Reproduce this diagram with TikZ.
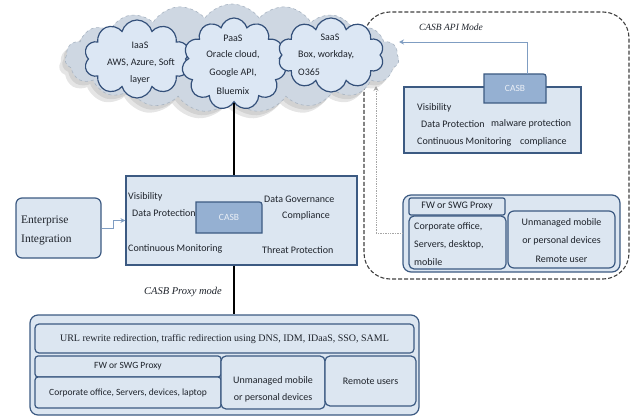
\documentclass[tikz,border=0pt]{standalone}
\usepackage{fontspec}
\setmainfont{Carlito}
\newfontfamily\serifface{Liberation Serif}
\usetikzlibrary{shapes.symbols,shadows,arrows.meta}
\definecolor{boxfill}{HTML}{DCE6F1}
\definecolor{boxline}{HTML}{3C5A82}
\definecolor{tabfill}{HTML}{95B0D2}
\definecolor{cloudfill}{HTML}{DCE7F4}
\definecolor{cloudline}{HTML}{34507A}
\definecolor{bgfill}{HTML}{CED7E2}
\definecolor{bgline}{HTML}{A8B4C2}
\definecolor{linkc}{HTML}{7F9DC2}
\definecolor{txt}{HTML}{1E232B}
\begin{document}
\begin{tikzpicture}[x=1pt,y=-1pt,
  every node/.style={font=\fontsize{10}{12}\selectfont,text=txt},
  box/.style={draw=boxline,fill=boxfill,line width=1.2pt,inner sep=0pt},
  rbox/.style={box,rounded corners=#1},
  rbox/.default=4pt,
  tabpath/.style={draw=boxline,fill=tabfill,line width=1.2pt},
  tabtext/.style={inner sep=0pt,text=white!80!tabfill,font=\fontsize{9.5}{11}\selectfont},
  lt/.style={inner sep=0pt,anchor=west},
  ct/.style={inner sep=0pt,anchor=center},
  puff/.style={cloud,cloud puffs=#1,cloud ignores aspect,draw=cloudline,fill=cloudfill,line width=1.2pt,inner sep=0pt},
  thickline/.style={line width=1.8pt,black},
  link/.style={draw=linkc,line width=0.9pt,-{Stealth[length=5pt,width=5pt]}},
  dotlink/.style={draw=gray!70,line width=0.7pt,densely dotted,-{Stealth[length=5pt,width=5pt]}}
]
\useasboundingbox (0,0) rectangle (632,417);

% API mode dashed frame
\draw[draw=black!75,line width=1.1pt,dash pattern=on 4pt off 2pt,rounded corners=26pt] (364,12) rectangle (629,279);
\node[ct,font=\serifface\itshape\fontsize{9.5}{11}\selectfont] (apimode) at (451,27) {CASB API Mode};

% background cloud
\node[cloud,cloud puffs=19,cloud puff arc=110,cloud ignores aspect,minimum width=334pt,minimum height=108pt,
  fill=bgfill,draw=bgline,dashed,line width=0.6pt,
  drop shadow={shadow xshift=-6pt,shadow yshift=-7pt,fill=black!40,opacity=.25},
  drop shadow={shadow xshift=-3pt,shadow yshift=-4pt,fill=black!40,opacity=.25}] (bg) at (232,58) {};

% small clouds
\node[puff=10,minimum width=106pt,minimum height=78pt] (iaas) at (137,59) {};
\node[puff=11,minimum width=104pt,minimum height=92pt] (paas) at (234,64) {};
\node[puff=10,minimum width=106pt,minimum height=74pt] (saas) at (331,55) {};
\node[ct] (t1) at (140,45) {IaaS};
\node[ct] (t2) at (141,63) {AWS, Azure, Soft};
\node[ct] (t3) at (140,80) {layer};
\node[ct] (t4) at (233,38) {PaaS};
\node[ct] (t5) at (233,55) {Oracle cloud,};
\node[ct] (t6) at (233,73) {Google API,};
\node[ct] (t7) at (233,91) {Bluemix};
\node[ct] (t8) at (330,37) {SaaS};
\node[lt] (t9) at (298,55) {Box, workday,};
\node[lt] (t10) at (298,72) {O365};

% main CASB box
\node[box,minimum width=231pt,minimum height=89pt] (main) at (241.5,220.5) {};
\path[tabpath] (196,233) -- (196,202) -- (256,202) .. controls (262,202) .. (262,208) -- (262,233) -- cycle;
\node[tabtext,minimum width=66pt,minimum height=31pt] (mtab) at (229,217.5) {CASB};
\node[lt] (m1) at (128,197) {Visibility};
\node[lt] (m2) at (132,213) {Data Protection};
\node[lt] (m3) at (128,249) {Continuous Monitoring};
\node[lt] (m4) at (264,199) {Data Governance};
\node[lt] (m5) at (282,216) {Compliance};
\node[lt] (m6) at (262,250) {Threat Protection};

% enterprise
\node[rbox=6pt,minimum width=85pt,minimum height=60pt] (ent) at (58.5,228) {};
\node[lt,font=\serifface\fontsize{11.5}{14}\selectfont] (e1) at (21,221) {Enterprise};
\node[lt,font=\serifface\fontsize{11.5}{14}\selectfont] (e2) at (21,240) {Integration};

% proxy mode label
\node[ct,font=\serifface\itshape\fontsize{10.5}{12}\selectfont] (pmode) at (183,292) {CASB Proxy mode};

% bottom block
\node[rbox=8pt,minimum width=389pt,minimum height=100pt] (bot) at (224.5,365) {};
\node[rbox=4pt,minimum width=379pt,minimum height=29pt] (url) at (224.5,338.5) {};
\node[ct,font=\serifface\fontsize{10}{12}\selectfont] (urlt) at (224.5,339) {URL rewrite redirection, traffic redirection using DNS, IDM, IDaaS, SSO, SAML};
\node[rbox=3pt,minimum width=186pt,minimum height=21pt] (fwb) at (128,366.5) {};
\node[ct,font=\fontsize{9.5}{11}\selectfont] (fwbt) at (128,366.5) {FW or SWG Proxy};
\node[rbox=3pt,minimum width=186pt,minimum height=31pt] (corpb) at (128,392.5) {};
\node[ct,font=\fontsize{9.5}{11}\selectfont] (corpbt) at (128,393) {Corporate office, Servers, devices, laptop};
\node[rbox=5pt,minimum width=104pt,minimum height=53pt] (unb) at (273,382.5) {};
\node[ct] (unbt1) at (273,381) {Unmanaged mobile};
\node[ct] (unbt2) at (273,398) {or personal devices};
\node[rbox=5pt,minimum width=91pt,minimum height=50pt] (rem) at (370.5,381) {};
\node[ct] (remt) at (370.5,381) {Remote users};

% API box
\node[box,minimum width=177pt,minimum height=66pt] (api) at (492.5,120) {};
\path[tabpath] (484,103) -- (484,74) -- (540,74) .. controls (546,74) .. (546,80) -- (546,103) -- cycle;
\node[tabtext,minimum width=62pt,minimum height=29pt] (apitab) at (515,88.5) {CASB};
\node[lt] (a1) at (417,108) {Visibility};
\node[lt] (a2) at (421,124) {Data Protection};
\node[lt] (a3) at (491,124) {malware protection};
\node[lt] (a4) at (417,142) {Continuous Monitoring};
\node[lt] (a5) at (520,142) {compliance};

% device block right
\node[rbox=8pt,minimum width=217pt,minimum height=77pt] (devr) at (511.5,233.5) {};
\node[rbox=2pt,minimum width=96pt,minimum height=17pt] (fwr) at (457,206.5) {};
\node[ct] (fwrt) at (457,206.5) {FW or SWG Proxy};
\node[rbox=5pt,minimum width=97pt,minimum height=53pt] (corpr) at (457.5,242.5) {};
\node[lt] (cr1) at (414,227) {Corporate office,};
\node[lt] (cr2) at (414,245) {Servers, desktop,};
\node[lt] (cr3) at (414,262) {mobile};
\node[rbox=6pt,minimum width=107pt,minimum height=57pt] (unr) at (561.5,239.5) {};
\node[ct] (ur1) at (561.5,223) {Unmanaged mobile};
\node[ct] (ur2) at (561.5,241) {or personal devices};
\node[ct] (ur3) at (561.5,259) {Remote user};

% connectors
\draw[thickline] (paas.south) -- (paas.south |- main.north);
\draw[thickline] (main.south -| paas.south) -- (bot.north -| paas.south);
\draw[link] (ent.east) -- ++(12,0) |- (main.west);
\draw[link] ([xshift=12pt]apitab.north) |- ([yshift=16pt]bg.east);
\coordinate (dotend) at (376,86);
\draw[dotlink] (devr.west) -| (dotend);
\end{tikzpicture}
\end{document}
